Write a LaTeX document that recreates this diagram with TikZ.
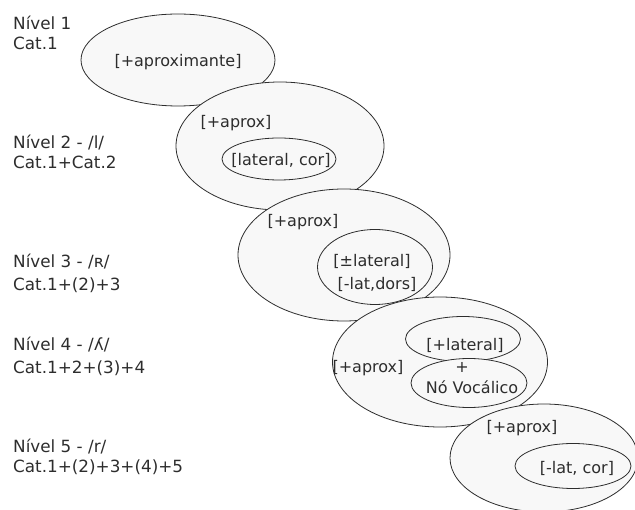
\documentclass[tikz,border=0pt]{standalone}
\usepackage{fontspec}
\setmainfont{DejaVu Sans}
\usetikzlibrary{shapes.geometric}
\definecolor{bubble}{RGB}{248,248,248}
\definecolor{ink}{RGB}{45,45,45}

\begin{document}
\begin{tikzpicture}[x=1pt,y=-1pt,
    every node/.style={text=ink,font=\fontsize{16}{20}\selectfont},
    bolha/.style={ellipse,draw=ink,fill=bubble,line width=0.8pt,inner sep=0pt},
    nivel/.style={anchor=west,align=left,inner sep=0pt,font=\fontsize{16.8}{20}\selectfont}]
    \useasboundingbox (0,0) rectangle (635,510);
        \node[nivel] (niv1) at (13,33) {Nível 1\\Cat.1};
        \node[nivel] (niv2) at (13,152) {Nível 2 - /l/\\Cat.1+Cat.2};
        \node[nivel] (niv3) at (13,273) {Nível 3 - /ʀ/\\[3pt]Cat.1+(2)+3};
        \node[nivel] (niv4) at (13,356) {Nível 4 - /ʎ/\\[3pt]Cat.1+2+(3)+4};
        \node[nivel] (niv5) at (13,457) {Nível 5 - /r/\\Cat.1+(2)+3+(4)+5};
        \node[bolha,minimum width=194,minimum height=92] (cat1) at (178,60) {};
        \node (aproximante) at (178,62) {[+aproximante]};
        \node[bolha,minimum width=208,minimum height=128] (cat2) at (280,146) {};
        \node[bolha,minimum width=114,minimum height=42] (cat2in) at (279,159) {};
        \node (aprox2) at (236,123) {[+aprox]};
        \node (latcor) at (281,160) {[lateral, cor]};
        \node[bolha,minimum width=212,minimum height=132] (cat3) at (344,255) {};
        \node[bolha,minimum width=115,minimum height=75] (cat3in) at (375,267) {};
        \node (aprox3) at (303,222) {[+aprox]};
        \node (pmlat) at (372,261) {[±lateral]};
        \node (latdors) at (377,284) {[-lat,dors]};
        \node[bolha,minimum width=215,minimum height=130] (cat4) at (440,362) {};
        \node[bolha,minimum width=115,minimum height=45] (cat4a) at (463,339) {};
        \node[bolha,minimum width=116,minimum height=49] (cat4b) at (469,383) {};
        \node (aprox4) at (368,368) {[+aprox]};
        \node (plat) at (465,345) {[+lateral]};
        \node (mais) at (462,367) {+};
        \node (novoc) at (472,387) {Nó Vocálico};
        \node[bolha,minimum width=188,minimum height=108] (cat5) at (544,458) {};
        \node[bolha,minimum width=116,minimum height=45] (cat5in) at (573,466) {};
        \node (aprox5) at (522,428) {[+aprox]};
        \node (latcor5) at (577,468) {[-lat, cor]};
\end{tikzpicture}
\end{document}
